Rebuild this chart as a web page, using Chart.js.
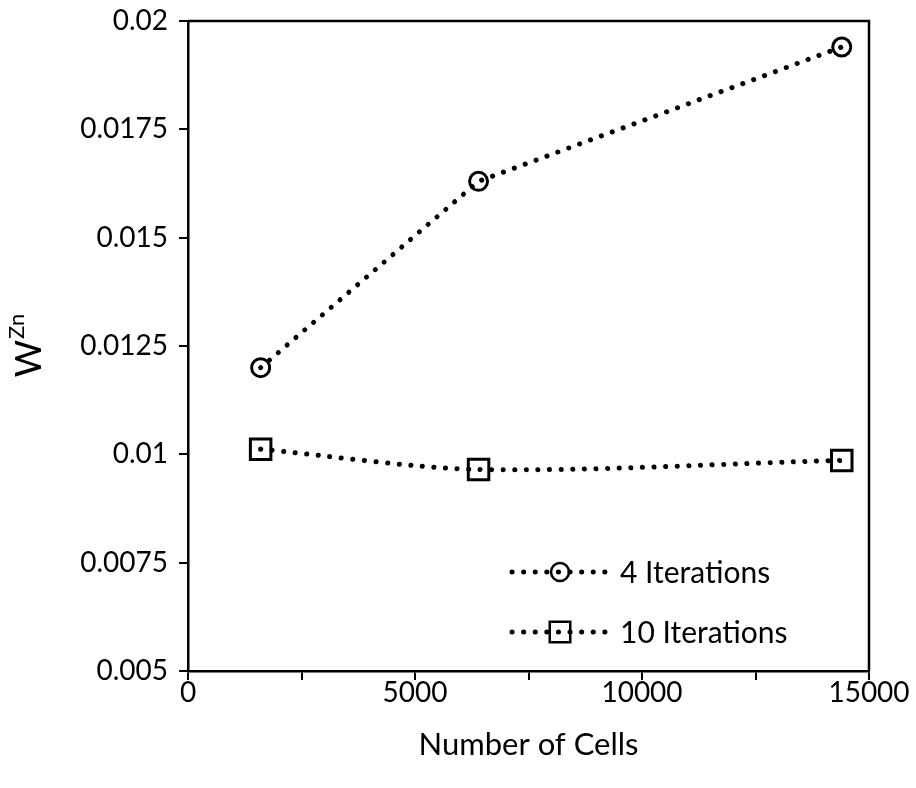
<!DOCTYPE html>
<html>
<head>
<meta charset="utf-8">
<script src="https://cdn.jsdelivr.net/npm/chart.js@4.4.1/dist/chart.umd.min.js"></script>
<style>
  html, body { margin: 0; padding: 0; background: #fff; }
  #wrap { width: 916px; height: 788px; }
</style>
</head>
<body>
<div id="wrap"><canvas id="myChart" width="916" height="788"></canvas></div>
<script>
const cellCounts = [1600, 6400, 14400];
const wzn4 = [0.0120, 0.0163, 0.0194];
const wzn10 = [0.01012, 0.00965, 0.00986];
const seriesNames = ['4 Iterations', '10 Iterations'];
const xTickLabels = ['0', '5000', '10000', '15000'];
const yTickLabels = ['0.005', '0.0075', '0.01', '0.0125', '0.015', '0.0175', '0.02'];

const FONT = 'Lato';
const dotDash = [0.1, 11.5];

function toPoints(xs, ys) {
  return xs.map((x, i) => ({ x: x, y: ys[i] }));
}

// box around the plot, legend in the lower right, and the W^Zn title
const frame = {
  id: 'frame',
  afterDraw(chart) {
    const { ctx, chartArea: a } = chart;
    ctx.save();
    ctx.strokeStyle = '#000';
    ctx.lineWidth = 2.5;
    ctx.beginPath();
    ctx.moveTo(a.left, a.top);
    ctx.lineTo(a.right, a.top);
    ctx.lineTo(a.right, a.bottom);
    ctx.stroke();

    // legend
    const rows = [572, 632];
    chart.data.datasets.forEach((ds, i) => {
      const y = rows[i];
      ctx.save();
      ctx.strokeStyle = '#000';
      ctx.lineWidth = ds.borderWidth;
      ctx.lineCap = 'round';
      ctx.setLineDash(dotDash);
      ctx.beginPath();
      ctx.moveTo(512, y);
      ctx.lineTo(608, y);
      ctx.stroke();
      ctx.restore();
      ctx.strokeStyle = '#000';
      ctx.fillStyle = 'rgba(0,0,0,0)';
      Chart.helpers.drawPoint(ctx, {
        pointStyle: ds.pointStyle,
        radius: ds.pointRadius,
        borderWidth: ds.pointBorderWidth,
        rotation: 0
      }, 560, y);
      ctx.fillStyle = '#000';
      ctx.font = '30px ' + FONT;
      ctx.textAlign = 'left';
      ctx.textBaseline = 'middle';
      ctx.fillText(ds.label, 620, y + 1);
    });

    // y title W with superscript Zn
    ctx.translate(41, 346);
    ctx.rotate(-Math.PI / 2);
    ctx.fillStyle = '#000';
    ctx.textBaseline = 'alphabetic';
    ctx.textAlign = 'left';
    ctx.font = '36px ' + FONT;
    const wW = ctx.measureText('W').width;
    ctx.font = '22px ' + FONT;
    const zW = ctx.measureText('Zn').width;
    const start = -(wW + zW) / 2;
    ctx.font = '36px ' + FONT;
    ctx.fillText('W', start, 0);
    ctx.font = '22px ' + FONT;
    ctx.fillText('Zn', start + wW + 1, -17);
    ctx.restore();
  }
};

const options = {
  type: 'scatter',
  data: {
    datasets: [{
      label: seriesNames[0],
      data: toPoints(cellCounts, wzn4),
      showLine: true,
      borderColor: '#000',
      borderWidth: 5,
      borderDash: dotDash,
      borderCapStyle: 'round',
      tension: 0,
      pointStyle: 'circle',
      pointRadius: 9,
      pointBorderWidth: 3,
      pointBorderColor: '#000',
      pointBackgroundColor: 'rgba(0,0,0,0)'
    }, {
      label: seriesNames[1],
      data: toPoints(cellCounts, wzn10),
      showLine: true,
      borderColor: '#000',
      borderWidth: 5,
      borderDash: dotDash,
      borderCapStyle: 'round',
      tension: 0.3,
      pointStyle: 'rect',
      pointRadius: 14.5,
      pointBorderWidth: 3,
      pointBorderColor: '#000',
      pointBackgroundColor: 'rgba(0,0,0,0)'
    }]
  },
  options: {
    responsive: false,
    animation: false,
    layout: {
      padding: { left: 0, top: 21, right: 47, bottom: 24 }
    },
    plugins: {
      legend: { display: false },
      tooltip: { enabled: false }
    },
    scales: {
      x: {
        type: 'linear',
        min: 0,
        max: 15000,
        border: { color: '#000', width: 2.5 },
        grid: { drawOnChartArea: false, drawTicks: true, tickLength: 9, color: '#000', lineWidth: 2 },
        ticks: {
          stepSize: 2500,
          color: '#000',
          padding: -4,
          maxRotation: 0,
          font: { family: FONT, size: 28 },
          callback: (v) => {
            const i = xTickLabels.indexOf(String(v));
            return i >= 0 ? xTickLabels[i] : '';
          }
        },
        title: {
          display: true,
          text: 'Number of Cells',
          color: '#000',
          font: { family: FONT, size: 31 },
          padding: { top: 10, bottom: 0 }
        },
        afterFit: (scale) => {
          scale.height = 93;
          scale.paddingLeft = 0;
          scale.paddingRight = 0;
        }
      },
      y: {
        min: 0.005,
        max: 0.02,
        border: { color: '#000', width: 2.5 },
        grid: { drawOnChartArea: false, drawTicks: true, tickLength: 9, color: '#000', lineWidth: 2 },
        ticks: {
          stepSize: 0.0025,
          color: '#000',
          padding: 11,
          font: { family: FONT, size: 28 },
          callback: (v, i) => yTickLabels[i]
        },
        afterFit: (scale) => {
          scale.width = 188;
          scale.paddingTop = 0;
          scale.paddingBottom = 0;
        }
      }
    }
  },
  plugins: [frame]
};

const ctx = document.getElementById('myChart').getContext('2d');
new Chart(ctx, options);
</script>
</body>
</html>
